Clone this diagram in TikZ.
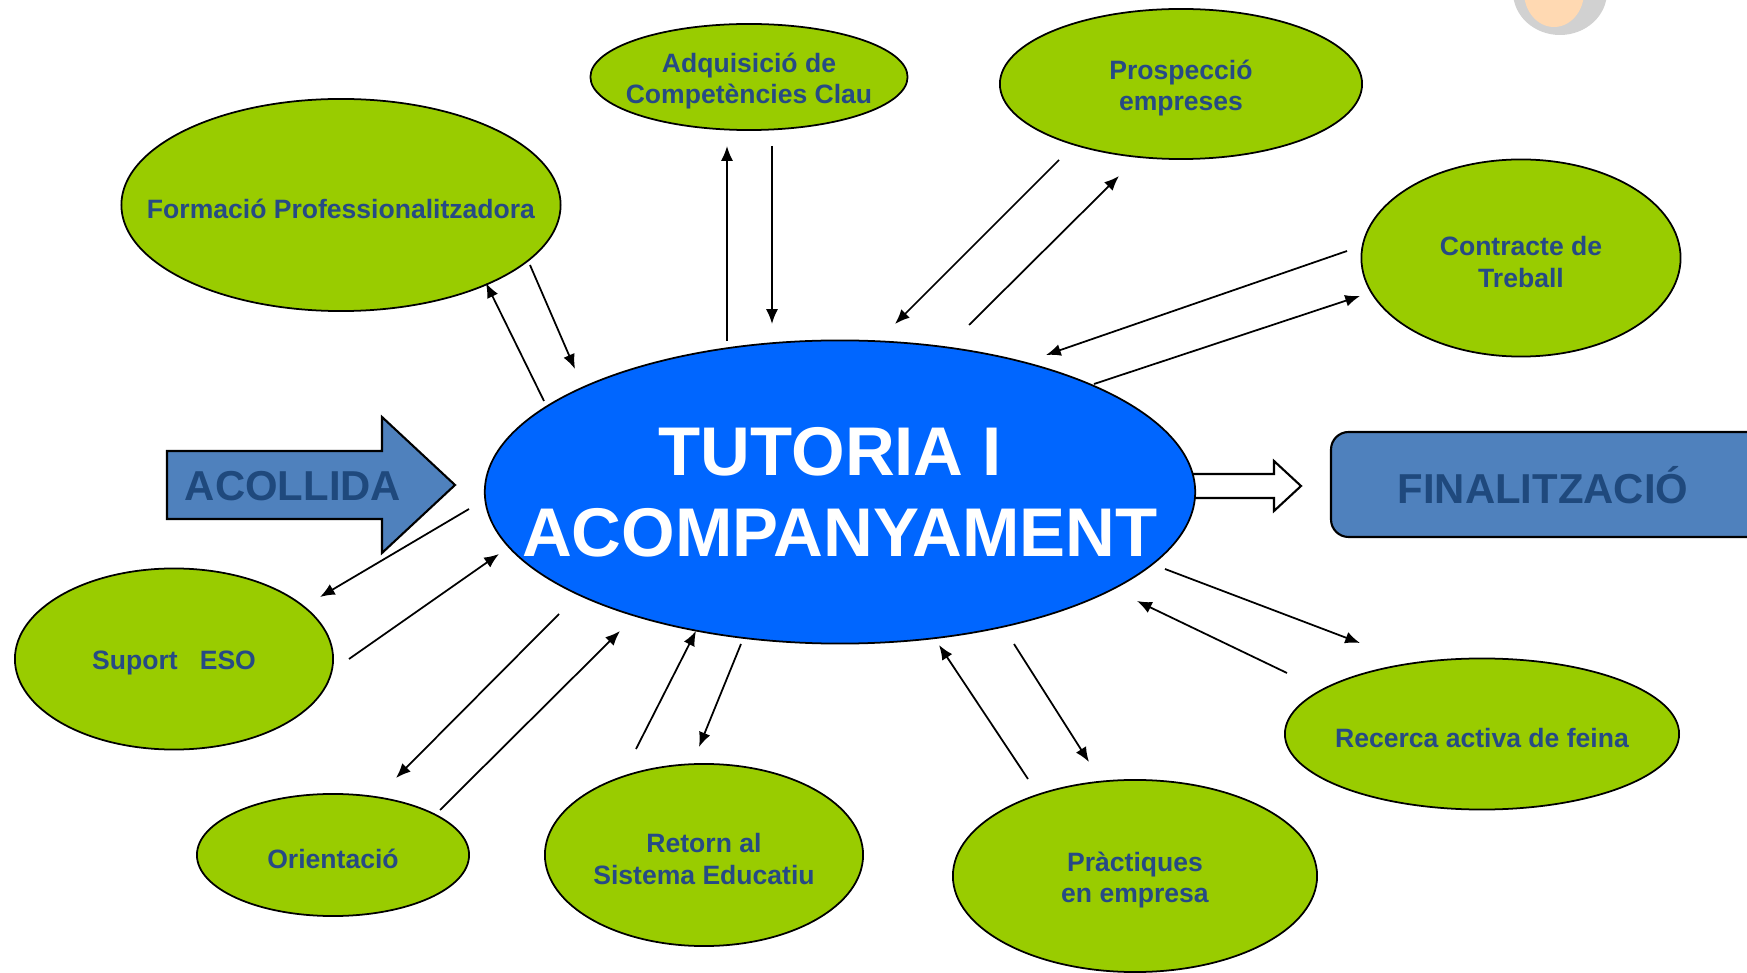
\documentclass[tikz,border=0pt]{standalone}
\usepackage{fontspec}
\setmainfont{Liberation Sans}
\usetikzlibrary{shapes.geometric,arrows.meta}

\definecolor{leaf}{HTML}{99CC00}
\definecolor{hubblue}{HTML}{0066FF}
\definecolor{panel}{HTML}{4F81BD}
\definecolor{panelink}{HTML}{1F497D}
\definecolor{ink}{HTML}{264A85}

\begin{document}
\begin{tikzpicture}
  [
    x=.01cm,
    y=-.01cm,
    bubble/.style={
      ellipse,
      draw,
      line width=.5pt,
      fill=leaf,
      inner sep=0pt
    },
    tag/.style={
      align=center,
      text=ink,
      yshift=-1.1pt,
      font=\bfseries\fontsize{7.55}{9}\selectfont
    },
    hub/.style={
      bubble,
      fill=hubblue
    },
    hubtext/.style={
      align=center,
      text=white,
      font=\bfseries\fontsize{19.6}{23.1}\selectfont
    },
    block/.style={
      draw,
      line width=.6pt,
      fill=panel
    },
    blocktext/.style={
      text=panelink,
      font=\bfseries\fontsize{11.9}{14}\selectfont
    },
    link/.style={
      line width=.5pt,
      -{Latex[length=4.2pt,width=3.4pt]}
    }
  ]

  \clip (0,0) rectangle (1747,973);

  % corner picture
  \fill [black!18] (1560,-8) ellipse (47 and 43);
  \fill [orange!30] (1554,-8) ellipse (30 and 35);

  % acollida
  \draw [block] (167,451) -- (382,451) -- (382,417) -- (455,485)
    -- (382,553) -- (382,519) -- (167,519) -- cycle;
  \node [blocktext] (acollida) at (293,486) {ACOLLIDA};

  % finalitzacio
  \draw [block, rounded corners=5pt] (1331,432) rectangle (1790,537);
  \node [blocktext] (final) at (1543,485) {FINALITZACIÓ};
  \draw [line width=.6pt, fill=white] (1180,474) -- (1274,474) -- (1274,461)
    -- (1301,486) -- (1274,511) -- (1274,498) -- (1180,498);

  % centre
  \node [hub, minimum width=7.1cm, minimum height=3.03cm,
    label={[hubtext]center:TUTORIA I\kern.28em\\ACOMPANYAMENT}] (hub) at (840,492) {};

  % ellipses
  \node [bubble, minimum width=4.39cm, minimum height=2.12cm,
    label={[tag]center:Formació Professionalitzadora}] (form) at (341,205) {};
  \node [bubble, minimum width=3.17cm, minimum height=1.06cm,
    label={[tag]center:Adquisició de\\Competències Clau}] (adq) at (749,77) {};
  \node [bubble, minimum width=3.62cm, minimum height=1.5cm,
    label={[tag]center:Prospecció\\empreses}] (prosp) at (1181,84) {};
  \node [bubble, minimum width=3.19cm, minimum height=1.97cm,
    label={[tag]center:Contracte de\\Treball}] (contr) at (1521,258) {};
  \node [bubble, minimum width=3.18cm, minimum height=1.81cm,
    label={[tag]center:Suport\ \ \ ESO}] (suport) at (174,659) {};
  \node [bubble, minimum width=2.72cm, minimum height=1.22cm,
    label={[tag]center:Orientació}] (orient) at (333,855) {};
  \node [bubble, minimum width=3.18cm, minimum height=1.82cm,
    label={[tag]center:Retorn al\\Sistema Educatiu}] (retorn) at (704,855) {};
  \node [bubble, minimum width=3.64cm, minimum height=1.92cm,
    label={[tag]center:Pràctiques\\en empresa}] (pract) at (1135,876) {};
  \node [bubble, minimum width=3.94cm, minimum height=1.51cm,
    label={[tag]center:Recerca activa de feina}] (recerca) at (1482,734) {};

  % link ends
  \foreach \n/\x/\y in {
      f1/544/401, f2/486/283, f3/530/265, f4/575/369,
      a1/727/341, a2/727/146, a3/772/146, a4/772/324,
      p1/1059/160, p2/895/324, p3/969/325, p4/1119/176,
      c1/1347/251, c2/1046/355, c3/1094/384, c4/1360/296,
      s1/469/509, s2/320/597, s3/349/659, s4/499/554,
      o1/559/614, o2/396/778, o3/440/810, o4/620/631,
      r1/636/749, r2/696/631, r3/741/644, r4/699/747,
      x1/1028/779, x2/939/645, x3/1014/644, x4/1089/762,
      q1/1165/569, q2/1360/643, q3/1287/673, q4/1137/601}
    \coordinate (\n) at (\x,\y);

  % links
  \foreach \s/\t in {f1/f2, f3/f4, a1/a2, a3/a4, p1/p2, p3/p4,
      c1/c2, c3/c4, s1/s2, s3/s4, o1/o2, o3/o4,
      r1/r2, r3/r4, x1/x2, x3/x4, q1/q2, q3/q4}
    \draw [link] (\s) -- (\t);
\end{tikzpicture}
\end{document}
